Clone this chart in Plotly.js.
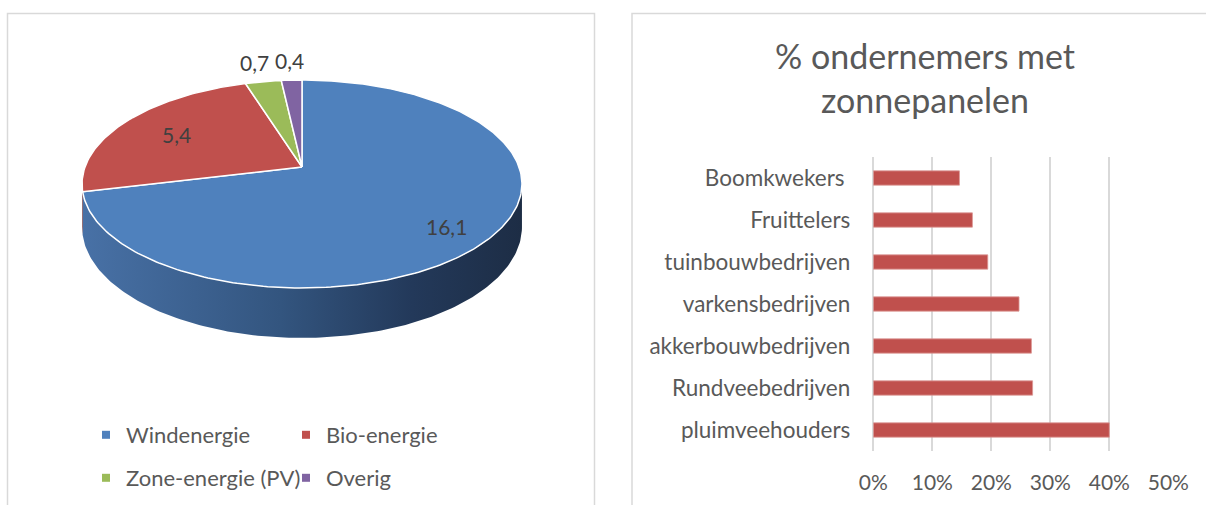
<!DOCTYPE html>
<html><head><meta charset="utf-8">
<script src="https://cdn.plot.ly/plotly-3.0.1.min.js"></script>
<style>html,body{margin:0;padding:0;background:#fff}</style></head>
<body>
<div id="chart" style="width:1206px;height:505px"></div>
<script>
// ---- data ----
const energyLabels = ['Windenergie', 'Bio-energie', 'Zone-energie (PV)', 'Overig'];
const energyValues = [16.1, 5.4, 0.7, 0.4];
const energyText = ['16,1', '5,4', '0,7', '0,4'];

const sectorCategories = ['Boomkwekers\u00a0', 'Fruittelers', 'tuinbouwbedrijven', 'varkensbedrijven', 'akkerbouwbedrijven', 'Rundveebedrijven', 'pluimveehouders'];
const sectorShares = [0.146, 0.168, 0.194, 0.247, 0.268, 0.270, 0.400];
const xTickVals = [0, 0.1, 0.2, 0.3, 0.4, 0.5];
const xTickText = ['0%', '10%', '20%', '30%', '40%', '50%'];
const chartTitle = '% ondernemers met<br>zonnepanelen';

// ---- styles ----
const topColors = ['#4f81bd', '#c0504d', '#9bbb59', '#8064a2'];
const sideScales = [
  [[0, '#4871a6'], [0.45, '#33557f'], [0.75, '#23395a'], [1, '#1d2d45']],
  [[0, '#9c3f3d'], [1, '#6e2b29']],
  [[0, '#7d9848'], [1, '#57692f']],
  [[0, '#66508a'], [1, '#463760']]
];
const FONT = 'Lato, "Open Sans", sans-serif';

// ---- 3D pie geometry (perspective projection of a disk) ----
const CX = 302, CY = 167, S = 217, T = 101.2, K = 0.1635, D = 41.8;
function proj(r, th, depth) {
  const X = r * Math.sin(th), Z = r * Math.cos(th), w = 1 + K * Z;
  return [CX + S * X / w, CY - T * Z / w + depth / w];
}
function arc(a0, a1, depth, r) {
  const n = Math.max(2, Math.ceil(Math.abs(a1 - a0) / (Math.PI / 180)));
  const xs = [], ys = [];
  for (let i = 0; i <= n; i++) {
    const p = proj(r === undefined ? 1 : r, a0 + (a1 - a0) * i / n, depth);
    xs.push(p[0]); ys.push(p[1]);
  }
  return [xs, ys];
}
const total = energyValues.reduce((a, b) => a + b, 0);
const thL = Math.acos(-K), thR = 2 * Math.PI - Math.acos(-K);

const sideTraces = [], topTraces = [], annotations = [];
let cum = 0;
energyValues.forEach((v, i) => {
  const a0 = cum / total * 2 * Math.PI;
  cum += v;
  const a1 = cum / total * 2 * Math.PI;
  // side wall (visible front part only)
  const lo = Math.max(a0, thL), hi = Math.min(a1, thR);
  if (hi > lo) {
    const t = arc(lo, hi, 0), b = arc(hi, lo, D);
    sideTraces.push({
      type: 'scatter', mode: 'lines', x: t[0].concat(b[0]), y: t[1].concat(b[1]),
      fill: 'toself', line: {width: 0, color: 'rgba(0,0,0,0)'},
      fillcolor: sideScales[i][0][1],
      fillgradient: {type: 'horizontal', colorscale: sideScales[i]},
      hoverinfo: 'skip', showlegend: false, xaxis: 'x', yaxis: 'y'
    });
  }
  // top face
  const c = proj(0, 0, 0), t = arc(a0, a1, 0);
  topTraces.push({
    type: 'scatter', mode: 'lines',
    x: [c[0]].concat(t[0], [c[0]]), y: [c[1]].concat(t[1], [c[1]]),
    fill: 'toself', fillcolor: topColors[i], line: {color: '#ffffff', width: 1.5},
    name: energyLabels[i], hoverinfo: 'name', showlegend: false, xaxis: 'x', yaxis: 'y'
  });
  // data label
  const mid = (a0 + a1) / 2, share = v / total;
  const rl = share > 0.5 ? 0.78 : (share > 0.1 ? 0.7 : 1.27);
  const p = proj(rl, mid, share > 0.5 ? 6 : 0);
  annotations.push({
    xref: 'x', yref: 'y', x: p[0], y: p[1], text: energyText[i], showarrow: false,
    xanchor: 'center', yanchor: 'middle', font: {family: FONT, size: 21, color: '#404040'}
  });
});

// legend entries
const legendTraces = energyLabels.map((lab, i) => ({
  type: 'scatter', mode: 'markers', x: [null], y: [null], name: lab,
  marker: {symbol: 'square', size: 8, color: topColors[i]},
  xaxis: 'x', yaxis: 'y', legend: i < 2 ? 'legend' : 'legend2', showlegend: true
}));

const barTrace = {
  type: 'bar', orientation: 'h', x: sectorShares, y: sectorCategories,
  xaxis: 'x2', yaxis: 'y2', showlegend: false,
  marker: {color: '#c0504d', line: {color: '#dc9896', width: 0.8}},
  hovertemplate: '%{y}: %{x:.0%}<extra></extra>'
};

const W = 1206, H = 505;
const legendBase = {
  orientation: 'h', xanchor: 'left', yanchor: 'middle', x: 86 / W,
  entrywidth: 155, entrywidthmode: 'pixels', bgcolor: 'rgba(0,0,0,0)',
  font: {family: FONT, size: 22, color: '#595959'}, itemclick: false, itemdoubleclick: false
};

const layout = {
  width: W, height: H,
  margin: {l: 0, r: 0, t: 0, b: 0},
  paper_bgcolor: '#ffffff', plot_bgcolor: 'rgba(0,0,0,0)',
  font: {family: FONT, color: '#595959'},
  title: {
    text: chartTitle, x: 925 / W, xanchor: 'center', xref: 'paper',
    y: 1 - 69 / H, yanchor: 'top', yref: 'paper',
    font: {family: FONT, size: 34, color: '#595959'}
  },
  xaxis: {domain: [0, 600 / W], range: [0, 600], visible: false, fixedrange: true},
  yaxis: {domain: [0, 1], range: [H, 0], visible: false, fixedrange: true},
  xaxis2: {
    domain: [873.3 / W, 1168.3 / W], range: [0, 0.5], anchor: 'y2',
    tickvals: xTickVals, ticktext: xTickText, showgrid: true, gridcolor: '#d9d9d9', gridwidth: 1.5,
    zeroline: true, zerolinecolor: '#d9d9d9', zerolinewidth: 1.5, showline: false, ticks: '',
    ticklabelstandoff: 17, tickfont: {family: FONT, size: 21, color: '#595959'}, fixedrange: true
  },
  yaxis2: {
    domain: [(H - 451) / H, (H - 157) / H], anchor: 'x2', type: 'category', autorange: 'reversed',
    showgrid: false, zeroline: false, showline: false, ticks: '', ticklabelstandoff: 22,
    tickfont: {family: FONT, size: 22.5, color: '#595959'}, fixedrange: true
  },
  bargap: 0.66,
  legend: Object.assign({}, legendBase, {y: (H - 435) / H}),
  legend2: Object.assign({}, legendBase, {y: (H - 478) / H}),
  annotations: annotations,
  shapes: [
    {type: 'rect', xref: 'paper', yref: 'paper', x0: 7.5 / W, x1: 594.5 / W, y0: -0.05, y1: (H - 13.5) / H,
     line: {color: '#d9d9d9', width: 1.5}, fillcolor: 'rgba(0,0,0,0)', layer: 'below'},
    {type: 'rect', xref: 'paper', yref: 'paper', x0: 632 / W, x1: 1.05, y0: -0.05, y1: (H - 13.5) / H,
     line: {color: '#d9d9d9', width: 1.5}, fillcolor: 'rgba(0,0,0,0)', layer: 'below'}
  ]
};

Plotly.newPlot('chart', sideTraces.concat(topTraces, legendTraces, [barTrace]), layout,
  {displayModeBar: false, staticPlot: false, responsive: false});
</script>
</body></html>
